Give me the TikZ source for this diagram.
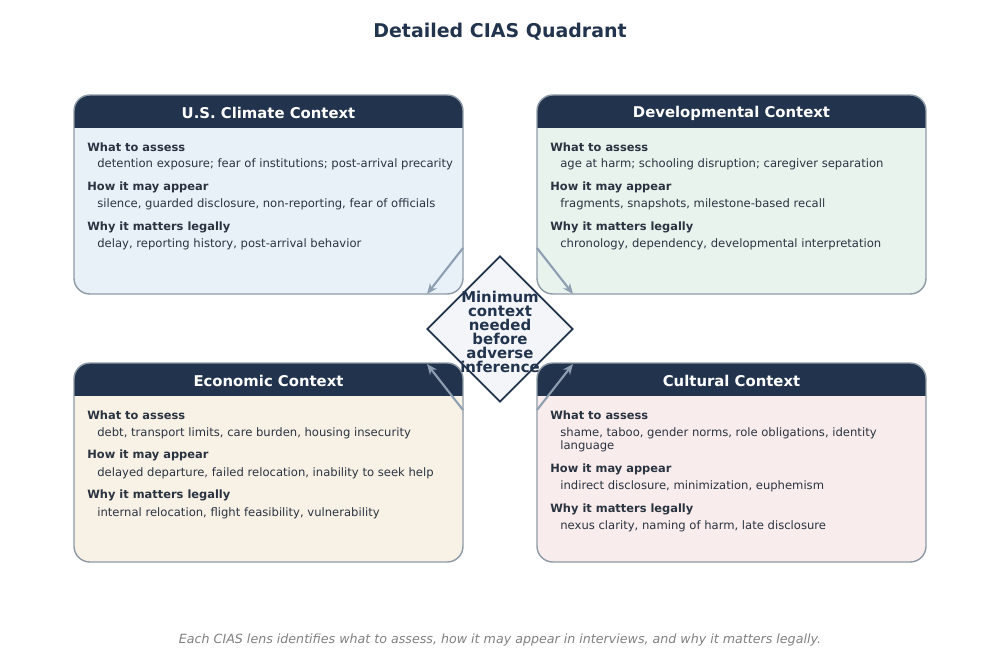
\documentclass[tikz,border=0pt]{standalone}
\usepackage{fontspec}
\setmainfont{DejaVu Sans}
\usetikzlibrary{shapes.geometric,arrows.meta}
\definecolor{hdr}{HTML}{22344D}
\definecolor{bord}{HTML}{8E9AA6}
\definecolor{txt}{HTML}{2A3340}
\definecolor{fa}{HTML}{E8F0F8}
\definecolor{fb}{HTML}{E8F3EE}
\definecolor{fc}{HTML}{F8F1E6}
\definecolor{fd}{HTML}{F8ECEC}
\definecolor{dfill}{HTML}{F3F5F8}
\definecolor{arr}{HTML}{8E9FB2}
\tikzset{
 px/.style={x=0.02cm,y=-0.02cm},
 lab/.style={anchor=west,font=\fontsize{6.5}{8.5}\selectfont\bfseries,text=txt,inner sep=0},
 bod/.style={anchor=west,font=\fontsize{6.6}{8.5}\selectfont,text=txt,inner sep=0},
 hd/.style={font=\fontsize{8.45}{10}\selectfont\bfseries,text=white},
 con/.style={draw=arr,line width=1.2pt,-{Stealth[length=6pt,width=5pt]}}
}
\begin{document}
\begin{tikzpicture}[px]
\useasboundingbox (0,0) rectangle (1000,658);
\node[font=\fontsize{10.8}{13}\selectfont\bfseries,text=hdr] (title) at (500,32) {Detailed CIAS Quadrant};
\newcommand\qbox[6]{%
 \fill[#5,rounded corners=9] (#1,#2) rectangle (#1+389,#2+199);
 \begin{scope}
 \clip[rounded corners=9] (#1,#2) rectangle (#1+389,#2+199);
 \fill[hdr] (#1,#2) rectangle (#1+389,#2+33);
 \end{scope}
 \draw[bord,line width=0.8pt,rounded corners=9] (#1,#2) rectangle (#1+389,#2+199);
 \node[hd] (#6) at (#1+194.5,#2+18) {#3};
}
\qbox{74}{95}{U.S. Climate Context}{fa}{fa}{h1}
\qbox{537}{95}{Developmental Context}{fb}{fb}{h2}
\qbox{74}{363}{Economic Context}{fc}{fc}{h3}
\qbox{537}{363}{Cultural Context}{fd}{fd}{h4}
% TL
\node[lab] (a1) at (87,147) {What to assess};
\node[bod] (a2) at (97,164) {detention exposure; fear of institutions; post-arrival precarity};
\node[lab] (a3) at (87,187) {How it may appear};
\node[bod] (a4) at (97,204) {silence, guarded disclosure, non-reporting, fear of officials};
\node[lab] (a5) at (87,227) {Why it matters legally};
\node[bod] (a6) at (97,244) {delay, reporting history, post-arrival behavior};
% TR
\node[lab] (b1) at (550,147) {What to assess};
\node[bod] (b2) at (560,164) {age at harm; schooling disruption; caregiver separation};
\node[lab] (b3) at (550,187) {How it may appear};
\node[bod] (b4) at (560,204) {fragments, snapshots, milestone-based recall};
\node[lab] (b5) at (550,227) {Why it matters legally};
\node[bod] (b6) at (560,244) {chronology, dependency, developmental interpretation};
% BL
\node[lab] (c1) at (87,415) {What to assess};
\node[bod] (c2) at (97,433) {debt, transport limits, care burden, housing insecurity};
\node[lab] (c3) at (87,455) {How it may appear};
\node[bod] (c4) at (97,473) {delayed departure, failed relocation, inability to seek help};
\node[lab] (c5) at (87,495) {Why it matters legally};
\node[bod] (c6) at (97,513) {internal relocation, flight feasibility, vulnerability};
% BR
\node[lab] (d1) at (550,415) {What to assess};
\node[bod] (d2) at (560,433) {shame, taboo, gender norms, role obligations, identity};
\node[bod] (d2b) at (560,446) {language};
\node[lab] (d3) at (550,469) {How it may appear};
\node[bod] (d4) at (560,486) {indirect disclosure, minimization, euphemism};
\node[lab] (d5) at (550,509) {Why it matters legally};
\node[bod] (d6) at (560,526) {nexus clarity, naming of harm, late disclosure};
% center
\node[diamond,draw=hdr,fill=dfill,line width=1pt,inner sep=0,minimum width=2.92cm,minimum height=2.92cm] (dm) at (500,329) {};
\node[align=center,font=\fontsize{8.5}{7.9}\selectfont\bfseries,text=hdr] (dt) at (500,332) {Minimum\\context\\needed\\before\\adverse\\inference};
\coordinate (s1) at (463,248); \coordinate (e1) at (427,294);
\coordinate (s2) at (537,248); \coordinate (e2) at (573,294);
\coordinate (s3) at (463,410); \coordinate (e3) at (427,364);
\coordinate (s4) at (537,410); \coordinate (e4) at (573,364);
\draw[con] (s1) -- (e1);
\draw[con] (s2) -- (e2);
\draw[con] (s3) -- (e3);
\draw[con] (s4) -- (e4);
\node[font=\fontsize{7.2}{9}\selectfont\itshape,text=gray] (cap) at (500,640) {Each CIAS lens identifies what to assess, how it may appear in interviews, and why it matters legally.};
\end{tikzpicture}
\end{document}
